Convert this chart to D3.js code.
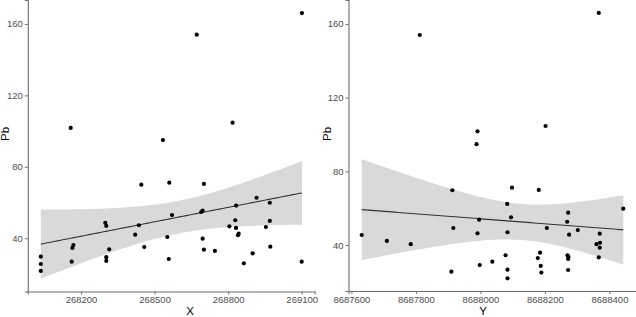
<!DOCTYPE html>
<html><head><meta charset="utf-8">
<script src="https://cdn.jsdelivr.net/npm/d3@7"></script>
<style>body{margin:0;background:#fff}svg{display:block}text{font-family:"Liberation Sans",Arial,sans-serif}</style>
</head><body><svg id="c" width="636" height="317"></svg>
<script>
// Left panel: X coordinate vs Pb
const xCoord = [268158,268534,268672,268818,269101,
  268036,268036,268036,268162,268165,268169,268299,268303,268303,268303,268315,
  268421,268436,268446,268458,268552,268558,268560,268571,268690,268696,268696,
  268701,268701,268746,268805,268829,268832,268833,268840,268843,268864,268900,
  268916,268954,268970,268970,268972,269100];
const pbX = [101.8,95.0,154.0,104.7,166.1,
  29.7,25.6,21.7,26.9,34.6,36.2,48.7,46.9,29.4,27.3,33.8,
  42.0,47.3,70.0,35.1,40.7,28.4,71.1,53.0,54.7,55.5,39.8,
  70.4,33.6,32.9,46.7,50.1,45.8,58.3,41.7,42.6,26.0,31.6,
  62.7,46.3,59.9,49.7,35.3,26.9];
// Right panel: Y coordinate vs Pb
const yCoord = [8687812,8687991,8687988,8688202,8688367,
  8687632,8687710,8687784,8687913,8687910,8687916,8687991,8687996,8687998,8688037,
  8688078,8688083,8688084,8688084,8688084,8688095,8688098,8688178,8688181,8688185,
  8688187,8688189,8688206,8688269,8688272,8688270,8688272,8688273,8688272,8688275,
  8688302,8688360,8688370,8688371,8688370,8688367,8688443];
const pbY = [154.0,101.7,94.7,104.6,166.0,
  45.4,42.2,40.4,69.7,25.5,49.2,46.3,53.7,29.1,30.9,
  34.4,62.3,46.9,26.6,21.9,55.0,71.1,32.9,69.9,35.8,
  28.6,25.0,49.2,52.6,57.5,34.4,32.4,33.5,26.4,45.6,
  48.1,40.4,46.1,41.2,38.5,33.3,59.7];
const pbTicks = [40,80,120,160];
const xTicks = [268200,268500,268800,269100];
const yTicks = [8687600,8687800,8688000,8688200,8688400];

const svg = d3.select("#c");

function lmBand(xs, ys, n){
  const N = xs.length, mx = d3.mean(xs), my = d3.mean(ys);
  let sxx=0, sxy=0;
  for(let i=0;i<N;i++){ sxx+=(xs[i]-mx)**2; sxy+=(xs[i]-mx)*(ys[i]-my); }
  const b = sxy/sxx, a = my - b*mx;
  let sse=0; for(let i=0;i<N;i++){ sse+=(ys[i]-a-b*xs[i])**2; }
  const s = Math.sqrt(sse/(N-2)), t = 2.02;
  const [lo,hi] = d3.extent(xs);
  return d3.range(n).map(i=>{
    const x = lo + (hi-lo)*i/(n-1), f = a+b*x;
    const se = s*Math.sqrt(1/N + (x-mx)**2/sxx);
    return {x, f, lo:f-t*se, hi:f+t*se};
  });
}

function panel(cfg){
  const x = d3.scaleLinear().domain(cfg.xd).range(cfg.xr);
  const y = d3.scaleLinear().domain(cfg.yd).range([cfg.bottom,0]);
  const g = svg.append("g");
  const band = lmBand(cfg.xs, cfg.ys, 80);
  g.append("path").datum(band)
    .attr("d", d3.area().x(d=>x(d.x)).y0(d=>y(d.lo)).y1(d=>y(d.hi)))
    .attr("fill","#d9d9d9");
  g.append("path").datum(band)
    .attr("d", d3.line().x(d=>x(d.x)).y(d=>y(d.f)))
    .attr("fill","none").attr("stroke","#333").attr("stroke-width",1.1);
  g.selectAll("circle.p").data(cfg.xs.map((v,i)=>[v,cfg.ys[i]])).enter()
    .append("circle").attr("cx",d=>x(d[0])).attr("cy",d=>y(d[1])).attr("r",2.1).attr("fill","#000");
  const ax = g.append("g").attr("transform",`translate(0,${cfg.bottom})`)
    .call(d3.axisBottom(x).tickValues(cfg.ticks).tickFormat(d3.format("d")).tickSize(3).tickPadding(2));
  const ay = g.append("g").attr("transform",`translate(${cfg.xr[0]},0)`)
    .call(d3.axisLeft(y).tickValues(pbTicks).tickSize(3).tickPadding(2));
  [ax,ay].forEach(a=>{
    a.select(".domain").attr("stroke","#6e6e6e").attr("stroke-width",1.1);
    a.selectAll(".tick line").attr("stroke","#6e6e6e");
    a.selectAll("text").attr("fill","#4d4d4d").style("font-size","9.5px").style("font-family","'Liberation Sans',Arial,sans-serif");
  });
  g.append("text").attr("x",cfg.titleX).attr("y",315).attr("text-anchor","middle")
    .style("font-size","11.5px").attr("fill","#000").text(cfg.title);
  g.append("text").attr("transform",`translate(${cfg.pbX},134) rotate(-90)`).attr("text-anchor","middle")
    .attr("dy","0.35em").style("font-size","11.5px").attr("fill","#000").text("Pb");
}

panel({xs:xCoord, ys:pbX, xd:[267983,269153], xr:[27.8,314.7], yd:[10.2,173.4], bottom:291.5,
  ticks:xTicks, title:"X", titleX:190, pbX:5});
panel({xs:yCoord, ys:pbY, xd:[8687591,8688484], xr:[348.5,636.5], yd:[15,173], bottom:291,
  ticks:yTicks, title:"Y", titleX:483, pbX:327});
</script></body></html>
